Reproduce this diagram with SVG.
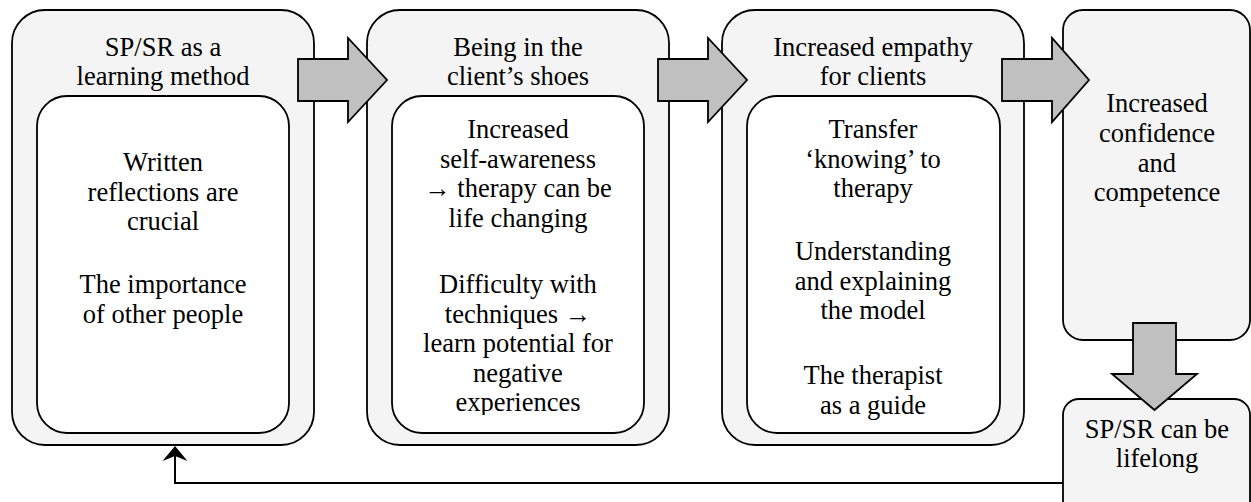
<svg xmlns="http://www.w3.org/2000/svg" width="1251" height="502" viewBox="0 0 1251 502">
  <style>
    .outer { fill: #f4f4f4; stroke: #000; stroke-width: 1.8; }
    .inner { fill: #ffffff; stroke: #000; stroke-width: 1.8; }
    .block { fill: #c0c0c0; stroke: #000; stroke-width: 1.8; stroke-linejoin: miter; }
    .link { fill: none; stroke: #000; stroke-width: 2; }
    .label { font-size: 26.5px; fill: #000; text-anchor: middle; }
  </style>
  <defs>
    <marker id="tip" viewBox="0 0 15 26" refX="9" refY="13" markerWidth="15" markerHeight="26" markerUnits="userSpaceOnUse" orient="auto">
      <path d="M15 13 L0 0.5 L5 13 L0 25.5 Z" fill="#000"/>
    </marker>
    <clipPath id="clip2">
      <rect x="392" y="96" width="252" height="319"/>
    </clipPath>
  </defs>

  <g font-family="Liberation Serif, DejaVu Serif, serif">
  <!-- Stage 1 -->
  <g id="stage-learning">
    <rect class="outer" x="12" y="10" width="302" height="435" rx="33" ry="33"/>
    <text class="label" x="163" y="55.5">SP/SR as a</text>
    <text class="label" x="163" y="85">learning method</text>
    <rect class="inner" x="37" y="96" width="252" height="337" rx="30" ry="30"/>
    <text class="label" x="163" y="171">Written</text>
    <text class="label" x="163" y="200.5">reflections are</text>
    <text class="label" x="163" y="230">crucial</text>
    <text class="label" x="163" y="293">The importance</text>
    <text class="label" x="163" y="322.5">of other people</text>
  </g>

  <!-- Stage 2 -->
  <g id="stage-shoes">
    <rect class="outer" x="367" y="10" width="302" height="435" rx="33" ry="33"/>
    <text class="label" x="518" y="55.5">Being in the</text>
    <text class="label" x="518" y="85">client’s shoes</text>
    <rect class="inner" x="392" y="96" width="252" height="337" rx="30" ry="30"/>
    <g clip-path="url(#clip2)">
      <text class="label" x="518" y="138">Increased</text>
      <text class="label" x="518" y="167.5">self-awareness</text>
      <text class="label" x="518" y="197">→ therapy can be</text>
      <text class="label" x="518" y="226.5">life changing</text>
      <text class="label" x="518" y="293">Difficulty with</text>
      <text class="label" x="518" y="322.5">techniques →</text>
      <text class="label" x="518" y="352">learn potential for</text>
      <text class="label" x="518" y="381.5">negative</text>
      <text class="label" x="518" y="411">experiences</text>
    </g>
  </g>

  <!-- Stage 3 -->
  <g id="stage-empathy">
    <rect class="outer" x="722" y="10" width="302" height="435" rx="33" ry="33"/>
    <text class="label" x="873" y="55.5">Increased empathy</text>
    <text class="label" x="873" y="85">for clients</text>
    <rect class="inner" x="747" y="96" width="253" height="337" rx="30" ry="30"/>
    <text class="label" x="873" y="138">Transfer</text>
    <text class="label" x="873" y="167.5">‘knowing’ to</text>
    <text class="label" x="873" y="197">therapy</text>
    <text class="label" x="873" y="260">Understanding</text>
    <text class="label" x="873" y="289.5">and explaining</text>
    <text class="label" x="873" y="319">the model</text>
    <text class="label" x="873" y="384">The therapist</text>
    <text class="label" x="873" y="413.5">as a guide</text>
  </g>

  <!-- Outcome -->
  <g id="stage-confidence">
    <rect class="outer" x="1063" y="10" width="187" height="330" rx="20" ry="20"/>
    <text class="label" x="1157" y="112">Increased</text>
    <text class="label" x="1157" y="142">confidence</text>
    <text class="label" x="1157" y="171.5">and</text>
    <text class="label" x="1157" y="201">competence</text>
  </g>

  <g id="stage-lifelong">
    <rect class="outer" x="1063" y="399" width="187" height="120" rx="16" ry="16"/>
    <text class="label" x="1157" y="438">SP/SR can be</text>
    <text class="label" x="1157" y="467">lifelong</text>
  </g>
  </g>

  <!-- Connectors -->
  <g id="connectors">
    <polygon class="block" points="298,59 348,59 348,38 387,80 348,122 348,101 298,101"/>
    <polygon class="block" points="658,59 708,59 708,38 747,80 708,122 708,101 658,101"/>
    <polygon class="block" points="1002,59 1052,59 1052,38 1089,80 1052,122 1052,101 1002,101"/>
    <polygon class="block" points="1133,323 1176,323 1176,374 1197,374 1154.5,410 1112,374 1133,374"/>
    <polyline class="link" points="1063,483 175,483 175,452" marker-end="url(#tip)"/>
  </g>
</svg>
